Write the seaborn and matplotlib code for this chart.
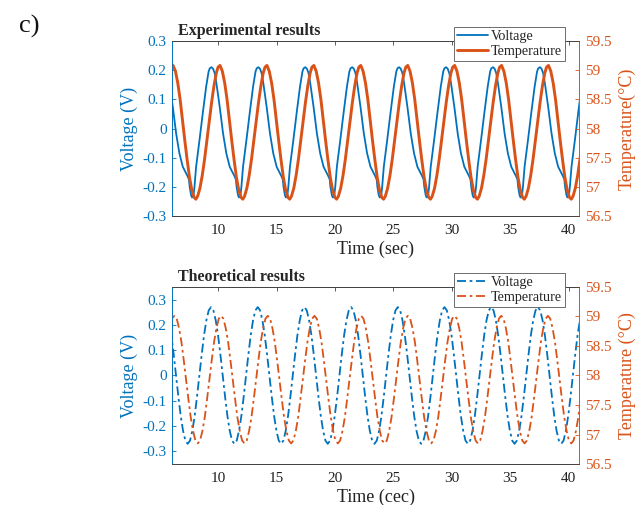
import numpy as np
import matplotlib
matplotlib.use("Agg")
import matplotlib.pyplot as plt
import seaborn as sns

sns.set_style("white")
plt.rcParams['font.family'] = ['Liberation Serif', 'DejaVu Serif']
plt.rcParams['axes.unicode_minus'] = False

BLUE = '#0072BD'
ORANGE = '#D95319'
GRAY = '#404040'

# --- experimental: one cycle (offset from peak, s) ---
v_exp_off = [0.00, 0.14, 0.28, 0.43, 0.71, 1.00, 1.28, 1.57, 1.86, 2.00, 2.10,
             2.16, 2.28, 2.36, 2.43, 2.50, 2.57, 2.71, 3.00, 3.28, 3.57, 3.78, 3.88]
v_exp_val = [0.210, 0.205, 0.190, 0.155, 0.075, -0.017, -0.085, -0.131, -0.154,
             -0.165, -0.175, -0.200, -0.228, -0.236, -0.234, -0.225, -0.200,
             -0.131, -0.040, 0.052, 0.143, 0.195, 0.206]
v_exp_peaks = [5.38, 9.40, 13.42, 17.44, 21.46, 25.48, 29.50, 33.52, 37.54]

t_exp_off = [0.00, 0.20, 0.40, 0.60, 0.80, 1.00, 1.20, 1.40, 1.60, 1.80, 1.95,
             2.10, 2.30, 2.50, 2.70, 2.90, 3.10, 3.30, 3.50, 3.70, 3.85]
t_exp_val = [59.08, 58.98, 58.78, 58.50, 58.15, 57.80, 57.47, 57.17, 56.95,
             56.82, 56.79, 56.84, 56.98, 57.20, 57.48, 57.80, 58.12, 58.45,
             58.73, 58.95, 59.05]
t_exp_peaks = [2.10, 6.12, 10.14, 14.16, 18.18, 22.20, 26.22, 30.24, 34.26, 38.28]

# --- theoretical: one cycle sampled every 0.2 s from the peak ---
th_off = [0.0, 0.2, 0.4, 0.6, 0.8, 1.0, 1.2, 1.4, 1.6, 1.8,
          2.0, 2.2, 2.4, 2.6, 2.8, 3.0, 3.2, 3.4, 3.6, 3.8]
v_th_val = [0.270, 0.257, 0.218, 0.159, 0.083, 0.000, -0.083, -0.159, -0.218, -0.257,
            -0.270, -0.257, -0.218, -0.159, -0.083, 0.000, 0.083, 0.159, 0.218, 0.257]
v_th_peaks = [1.37, 5.37, 9.37, 13.37, 17.37, 21.37, 25.37, 29.37, 33.37, 37.37]
t_th_val = [59.01, 58.96, 58.80, 58.57, 58.26, 57.93, 57.60, 57.29, 57.06, 56.90,
            56.85, 56.90, 57.06, 57.29, 57.60, 57.93, 58.26, 58.57, 58.80, 58.96]
t_th_peaks = [2.23, 6.23, 10.23, 14.23, 18.23, 22.23, 26.23, 30.23, 34.23, 38.23]

x_ticks = [10, 15, 20, 25, 30, 35, 40]
v_ticks = [-0.3, -0.2, -0.1, 0, 0.1, 0.2, 0.3]
v_labels = ['-0.3', '-0.2', '-0.1', '0', '0.1', '0.2', '0.3']
temp_ticks = [56.5, 57, 57.5, 58, 58.5, 59, 59.5]
temp_labels = ['56.5', '57', '57.5', '58', '58.5', '59', '59.5']


def build(offsets, values, peaks):
    t = np.concatenate([p + np.array(offsets) for p in peaks])
    y = np.tile(values, len(peaks))
    return t, y


def panel(ax, v, temp, ls, title, xlabel, tlabel, vlim):
    ax2 = ax.twinx()
    sns.lineplot(x=v[0], y=v[1], ax=ax, color=BLUE, linewidth=1.3,
                 linestyle=ls, label='Voltage', legend=False)
    sns.lineplot(x=temp[0], y=temp[1], ax=ax2, color=ORANGE,
                 linewidth=2.1 if ls == '-' else 1.3, linestyle=ls,
                 label='Temperature', legend=False)
    ax.set_xlim(6.03, 40.9)
    ax.set_ylim(*vlim)
    ax2.set_ylim(56.5, 59.5)
    ax.set_xticks(x_ticks)
    ax.set_xticklabels([str(x) for x in x_ticks])
    ax.set_yticks(v_ticks)
    ax.set_yticklabels(v_labels)
    ax2.set_yticks(temp_ticks)
    ax2.set_yticklabels(temp_labels)
    ax.tick_params(axis='x', direction='in', length=3, width=0.6, colors=GRAY,
                   labelcolor='#222222', labelsize=11, top=True, pad=6)
    ax.tick_params(axis='y', direction='in', length=3, width=0.6, colors=BLUE,
                   labelsize=11, pad=4)
    ax2.tick_params(axis='y', direction='in', length=3, width=0.6, colors=ORANGE,
                    labelsize=11, pad=4)
    for a in (ax, ax2):
        a.spines['top'].set_color(GRAY)
        a.spines['bottom'].set_color(GRAY)
        a.spines['left'].set_color(BLUE)
        a.spines['right'].set_color(ORANGE)
        for s in a.spines.values():
            s.set_linewidth(0.6)
            s.set_visible(True)
    ax.set_xlabel(xlabel, fontsize=13, color='#222222', labelpad=2)
    ax.set_ylabel('Voltage (V)', fontsize=13, color=BLUE, labelpad=3)
    ax2.set_ylabel(tlabel, fontsize=13, color=ORANGE, labelpad=5)
    ax.text(0.015, 1.012, title, transform=ax.transAxes, fontsize=11.5,
            fontweight='bold', va='bottom', ha='left')
    handles = ax.get_lines() + ax2.get_lines()
    leg = ax2.legend(handles, ['Voltage', 'Temperature'], loc='upper right',
                     bbox_to_anchor=(0.966, 1.08), borderaxespad=0,
                     fontsize=10.2, frameon=True, fancybox=False,
                     handlelength=2.2, handletextpad=0.15, labelspacing=0.1,
                     borderpad=0.25, framealpha=1)
    leg.get_frame().set_edgecolor('#555555')
    leg.get_frame().set_linewidth(0.6)
    ax.set_zorder(1)
    ax2.set_zorder(2)


fig = plt.figure(figsize=(6.42, 5.05), dpi=100)
ax_top = fig.add_axes([0.268, 0.572, 0.634, 0.347])
ax_bot = fig.add_axes([0.268, 0.081, 0.634, 0.351])

panel(ax_top, build(v_exp_off, v_exp_val, v_exp_peaks),
      build(t_exp_off, t_exp_val, t_exp_peaks), '-',
      'Experimental results', 'Time (sec)', 'Temperature(°C)', (-0.3, 0.3))
panel(ax_bot, build(th_off, v_th_val, v_th_peaks),
      build(th_off, t_th_val, t_th_peaks), (0, (5, 2, 1.5, 2)),
      'Theoretical results', 'Time (cec)', 'Temperature (°C)', (-0.35, 0.35))

fig.text(0.03, 0.935, 'c)', fontsize=19, color='#111111')

fig.savefig('out.png', dpi=100)
